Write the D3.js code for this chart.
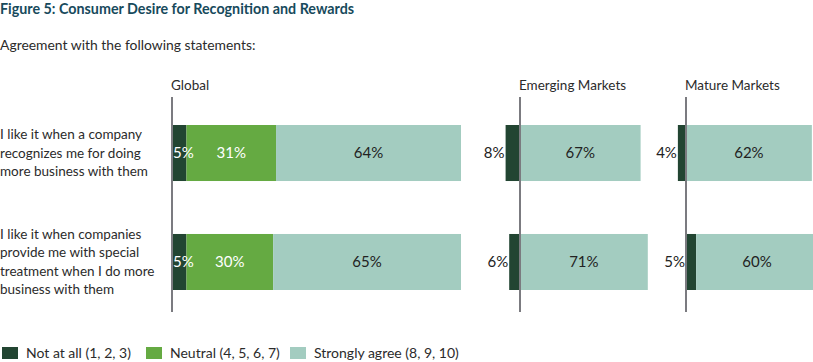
<!DOCTYPE html>
<html><head><meta charset="utf-8">
<script src="https://cdn.jsdelivr.net/npm/d3@7"></script>
<style>
body{margin:0;background:#fff;}
svg{display:block;font-family:Lato, "Open Sans", sans-serif;}
</style></head>
<body><svg id="c" width="813" height="362"></svg>
<script>
const title = "Figure 5: Consumer Desire for Recognition and Rewards";
const subtitle = "Agreement with the following statements:";
const categories = [
  ["I like it when a company", "recognizes me for doing", "more business with them"],
  ["I like it when companies", "provide me with special", "treatment when I do more", "business with them"]
];
const panels = ["Global", "Emerging Markets", "Mature Markets"];
const seriesNames = ["Not at all (1, 2, 3)", "Neutral (4, 5, 6, 7)", "Strongly agree (8, 9, 10)"];
const colors = ["#224532", "#65aa42", "#a3ccc0"];

const globalNotAtAll = [5, 5];
const globalNeutral = [31, 30];
const globalStrongly = [64, 65];
const emergingNotAtAll = [8, 6];
const emergingStrongly = [67, 71];
const matureNotAtAll = [4, 5];
const matureStrongly = [62, 60];

// how the "not at all" segment is drawn in each panel/row
const darkPlacement = [["stack", "stack"], ["left", "left"], ["left", "stack"]];

const svg = d3.select("#c");

svg.append("text").attr("x", 0).attr("y", 14)
  .attr("font-size", 14.3).attr("font-weight", 700).attr("fill", "#174a5c").text(title);
svg.append("text").attr("x", 0).attr("y", 50)
  .attr("font-size", 13.9).attr("fill", "#2b2b2b").text(subtitle);

const y = d3.scaleBand().domain(d3.range(categories.length)).range([125, 290]).paddingInner(0.486).paddingOuter(0);

const xs = [
  d3.scaleLinear().domain([0, 100]).range([172, 461]),
  d3.scaleLinear().domain([0, 100]).range([520, 700]),
  d3.scaleLinear().domain([0, 100]).range([686, 889])
];

const panelData = [
  [globalNotAtAll, globalNeutral, globalStrongly],
  [emergingNotAtAll, null, emergingStrongly],
  [matureNotAtAll, null, matureStrongly]
];

// category labels
categories.forEach((lines, i) => {
  const cy = y(i) + y.bandwidth() / 2;
  const lh = 18.5;
  const t = svg.append("text").attr("font-size", 13.5).attr("fill", "#2b2b2b");
  lines.forEach((ln, k) => {
    t.append("tspan").attr("x", 0)
      .attr("y", cy + (k - (lines.length - 1) / 2) * lh)
      .attr("dy", "0.35em").text(ln);
  });
});

panels.forEach((p, pi) => {
  const x = xs[pi];
  const g = svg.append("g");
  const [dark, neu, strong] = panelData[pi];
  categories.forEach((_, i) => {
    const by = y(i), bh = y.bandwidth(), cy = by + bh / 2;
    const segs = [];
    if (darkPlacement[pi][i] === "stack") {
      let acc = 0;
      [dark, neu, strong].forEach((arr, s) => {
        if (!arr) return;
        segs.push({s, x0: acc, x1: acc + arr[i], v: arr[i]});
        acc += arr[i];
      });
    } else {
      segs.push({s: 0, x0: -dark[i], x1: 0, v: dark[i]});
      let acc = 0;
      [neu, strong].forEach((arr, k) => {
        if (!arr) return;
        segs.push({s: k + 1, x0: acc, x1: acc + arr[i], v: arr[i]});
        acc += arr[i];
      });
    }
    segs.forEach(d => {
      g.append("rect").attr("x", x(d.x0)).attr("y", by)
        .attr("width", x(d.x1) - x(d.x0)).attr("height", bh).attr("fill", colors[d.s]);
    });
    const minX = d3.min(segs, d => x(d.x0));
    segs.forEach(d => {
      const t = g.append("text").attr("font-size", 15).attr("y", cy).attr("dy", "0.35em").text(d.v + "%");
      if (d.s === 0) {
        if (pi === 0) t.attr("x", x(d.x0) + 1).attr("fill", "#fff");
        else t.attr("x", minX - 1).attr("text-anchor", "end").attr("fill", "#222");
      } else if (d.s === 1) {
        t.attr("x", (x(d.x0) + x(d.x1)) / 2).attr("text-anchor", "middle").attr("fill", "#fff");
      } else {
        t.attr("x", (x(d.x0) + x(d.x1)) / 2).attr("text-anchor", "middle").attr("fill", "#222");
      }
    });
  });
  g.append("line").attr("x1", x(0)).attr("x2", x(0)).attr("y1", 97).attr("y2", 312)
    .attr("stroke", "#7b7b80").attr("stroke-width", 2);
  g.append("text").attr("x", x(0) - 1).attr("y", 90).attr("font-size", 13.5).attr("fill", "#2b2b2b").text(p);
});

// legend
const legX = [2, 146, 290];
seriesNames.forEach((n, i) => {
  svg.append("rect").attr("x", legX[i]).attr("y", 347).attr("width", 16).attr("height", 12).attr("fill", colors[i]);
  svg.append("text").attr("x", legX[i] + 24).attr("y", 353).attr("dy", "0.35em")
    .attr("font-size", 14).attr("fill", "#2b2b2b").text(n);
});
</script></body></html>
